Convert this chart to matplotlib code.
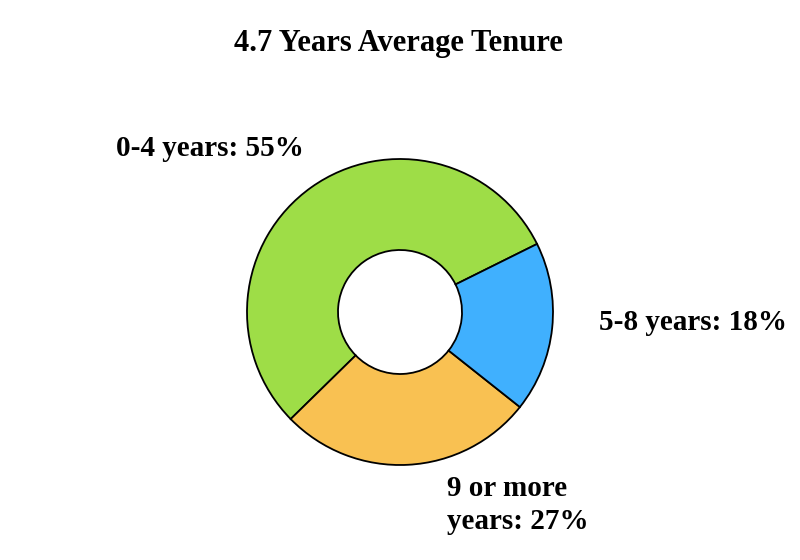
import matplotlib
matplotlib.use("Agg")
import matplotlib.pyplot as plt

categories = ["0-4 years", "9 or more\nyears", "5-8 years"]
values = [55, 27, 18]
colors = ["#9edd47", "#f9c152", "#40b0fe"]
title = "4.7 Years Average Tenure"

plt.rcParams["font.family"] = ["Liberation Serif", "DejaVu Serif"]

fig = plt.figure(figsize=(8, 5.6), dpi=100)
ax = fig.add_axes([0, 0, 1, 1])

R = 153
r_in = 62
ax.pie(values, colors=colors, startangle=26.4, counterclock=True,
       center=(400, 248), radius=R, frame=True,
       wedgeprops=dict(width=R - r_in, edgecolor="black", linewidth=1.3))
ax.set_xlim(0, 800)
ax.set_ylim(0, 560)
ax.set_aspect("equal")
ax.axis("off")

labels = [f"{c}: {v}%" for c, v in zip(categories, values)]
fs = 21
ax.text(116, 560 - 149, labels[0], fontsize=fs, fontweight="bold", ha="left", va="center")
ax.text(599, 560 - 323, labels[2], fontsize=fs, fontweight="bold", ha="left", va="center")
ax.text(447, 560 - 505, labels[1], fontsize=fs, fontweight="bold", ha="left", va="center",
        linespacing=1.32)

ax.text(398, 560 - 43, title, fontsize=22, fontweight="bold", ha="center", va="center")

fig.savefig("out.png", dpi=100)
